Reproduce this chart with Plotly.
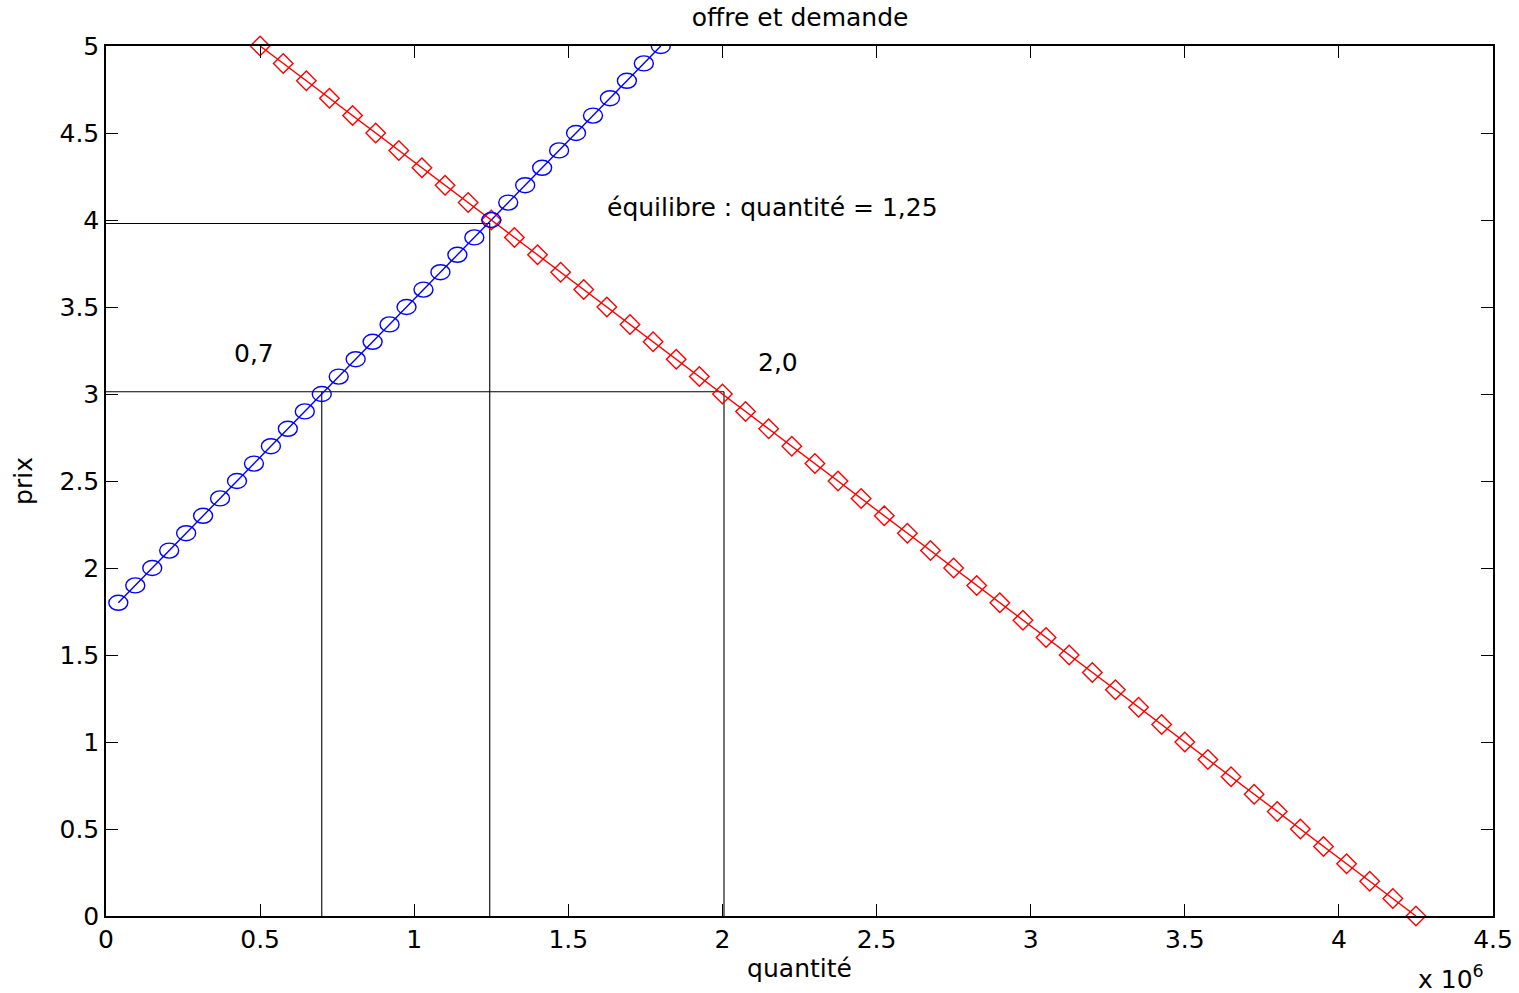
import plotly.graph_objects as go

# Offre (supply): price -> quantity, in millions
offre_prix = [1.8, 1.9, 2.0, 2.1, 2.2, 2.3, 2.4, 2.5, 2.6, 2.7, 2.8, 2.9, 3.0,
              3.1, 3.2, 3.3, 3.4, 3.5, 3.6, 3.7, 3.8, 3.9, 4.0, 4.1, 4.2, 4.3,
              4.4, 4.5, 4.6, 4.7, 4.8, 4.9, 5.0]
offre_quantite = [0.04, 0.095, 0.15, 0.205, 0.26, 0.315, 0.37, 0.425, 0.48,
                  0.535, 0.59, 0.645, 0.70, 0.755, 0.81, 0.865, 0.92, 0.975,
                  1.03, 1.085, 1.14, 1.195, 1.25, 1.305, 1.36, 1.415, 1.47,
                  1.525, 1.58, 1.635, 1.69, 1.745, 1.80]

# Demande (demand): price -> quantity, in millions
demande_prix = [5.0, 4.9, 4.8, 4.7, 4.6, 4.5, 4.4, 4.3, 4.2, 4.1, 4.0, 3.9,
                3.8, 3.7, 3.6, 3.5, 3.4, 3.3, 3.2, 3.1, 3.0, 2.9, 2.8, 2.7,
                2.6, 2.5, 2.4, 2.3, 2.2, 2.1, 2.0, 1.9, 1.8, 1.7, 1.6, 1.5,
                1.4, 1.3, 1.2, 1.1, 1.0, 0.9, 0.8, 0.7, 0.6, 0.5, 0.4, 0.3,
                0.2, 0.1, 0.0]
demande_quantite = [0.5, 0.575, 0.65, 0.725, 0.8, 0.875, 0.95, 1.025, 1.1,
                    1.175, 1.25, 1.325, 1.4, 1.475, 1.55, 1.625, 1.7, 1.775,
                    1.85, 1.925, 2.0, 2.075, 2.15, 2.225, 2.3, 2.375, 2.45,
                    2.525, 2.6, 2.675, 2.75, 2.825, 2.9, 2.975, 3.05, 3.125,
                    3.2, 3.275, 3.35, 3.425, 3.5, 3.575, 3.65, 3.725, 3.8,
                    3.875, 3.95, 4.025, 4.1, 4.175, 4.25]

# Reading guides: equilibrium and the two quantities at price 3
equilibre_x = [0.0, 1.245, 1.245]
equilibre_y = [3.98, 3.98, -0.02]
prix3_x = [0.70, 0.70, None, 0.0, 2.005, None, 2.005, 2.005]
prix3_y = [-0.02, 3.013, None, 3.013, 3.013, None, 3.013, -0.02]

x_ticks = [0, 0.5, 1, 1.5, 2, 2.5, 3, 3.5, 4, 4.5]
y_ticks = [0, 0.5, 1, 1.5, 2, 2.5, 3, 3.5, 4, 4.5, 5]

FONT = "DejaVu Sans"
FS = 25

fig = go.Figure()

fig.add_trace(go.Scatter(x=equilibre_x, y=equilibre_y, mode="lines",
                         line=dict(color="black", width=1.1), cliponaxis=False,
                         showlegend=False, hoverinfo="skip"))
fig.add_trace(go.Scatter(x=prix3_x, y=prix3_y, mode="lines",
                         line=dict(color="black", width=1.1), cliponaxis=False,
                         showlegend=False, hoverinfo="skip"))

fig.add_trace(go.Scatter(x=offre_quantite, y=offre_prix, mode="lines",
                         line=dict(color="#0000ff", width=1.4),
                         cliponaxis=False, name="offre", showlegend=False))
fig.add_trace(go.Scatter(x=demande_quantite, y=demande_prix, mode="lines+markers",
                         line=dict(color="#ff0000", width=1.4),
                         marker=dict(symbol="diamond-open", size=15,
                                     color="#ff0000", line=dict(width=1.4)),
                         cliponaxis=False, name="demande", showlegend=False))

# Open elliptical markers on the supply curve (anchored at data points)
shapes = []
for q, p in zip(offre_quantite, offre_prix):
    shapes.append(dict(type="circle", xref="x", yref="y",
                       xsizemode="pixel", ysizemode="pixel",
                       xanchor=q, yanchor=p, x0=-9.5, x1=9.5, y0=-7.5, y1=7.5,
                       line=dict(color="#0000ff", width=1.4),
                       fillcolor="rgba(0,0,0,0)", layer="above"))

annotations = [
    dict(x=1.62, y=4.07, xref="x", yref="y", text="équilibre : quantité = 1,25",
         showarrow=False, xanchor="left", yanchor="middle",
         font=dict(family=FONT, size=FS, color="black")),
    dict(x=0.41, y=3.235, xref="x", yref="y", text="0,7",
         showarrow=False, xanchor="left", yanchor="middle",
         font=dict(family=FONT, size=FS, color="black")),
    dict(x=2.11, y=3.18, xref="x", yref="y", text="2,0",
         showarrow=False, xanchor="left", yanchor="middle",
         font=dict(family=FONT, size=FS, color="black")),
    dict(x=0.995, y=-0.0706, xref="paper", yref="paper",
         text="x 10<sup>6</sup>", showarrow=False, xanchor="right",
         yanchor="middle", font=dict(family=FONT, size=FS, color="black")),
]

axis_common = dict(showgrid=False, zeroline=False, showline=True,
                   linecolor="black", linewidth=1.5, mirror="ticks",
                   ticks="inside", ticklen=12, tickwidth=1, tickcolor="black",
                   tickfont=dict(family=FONT, size=FS, color="black"),
                   automargin=False)

fig.update_layout(
    width=1519, height=993,
    margin=dict(l=106, r=26, t=46, b=77),
    paper_bgcolor="white", plot_bgcolor="white",
    title=dict(text="offre et demande", x=0.5267, xanchor="center",
               y=1 - 17 / 993, yanchor="middle", yref="container",
               font=dict(family=FONT, size=FS, color="black")),
    xaxis=dict(range=[0, 4.5], tickvals=x_ticks,
               ticktext=[f"{v:g}" for v in x_ticks],
               title=dict(text="quantité", standoff=7,
                          font=dict(family=FONT, size=FS, color="black")),
               **axis_common),
    yaxis=dict(range=[0, 5], tickvals=y_ticks,
               ticktext=[f"{v:g}" for v in y_ticks],
               title=dict(text="prix", standoff=20,
                          font=dict(family=FONT, size=FS, color="black")),
               **axis_common),
    shapes=shapes,
    annotations=annotations,
    showlegend=False,
)

fig.write_html("out.html")
